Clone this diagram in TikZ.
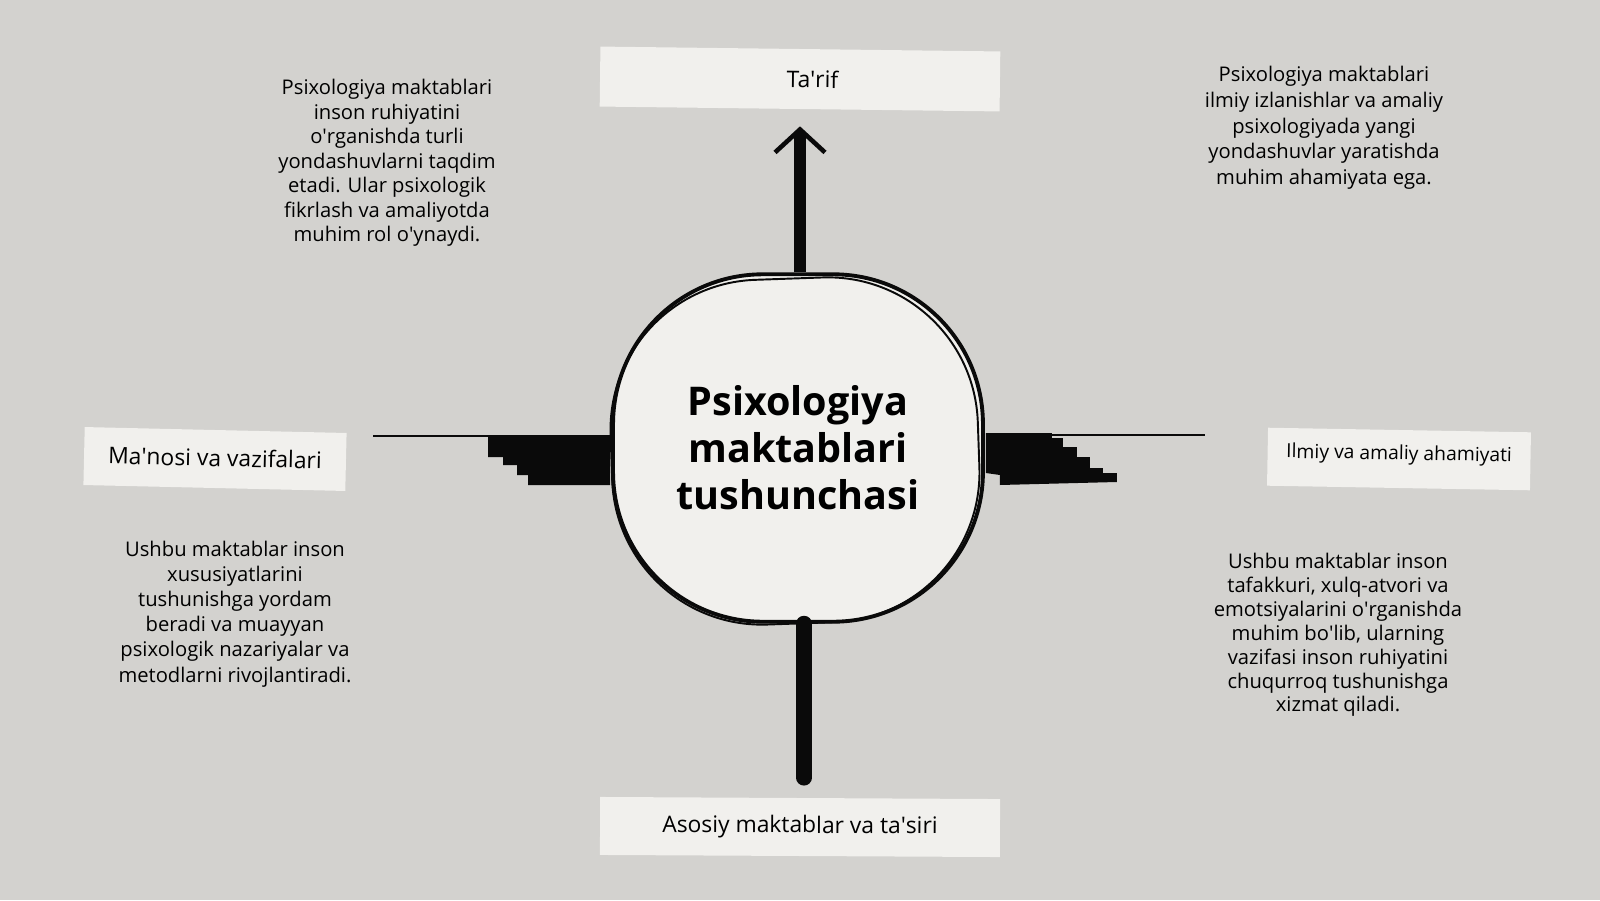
\documentclass[tikz,border=0pt]{standalone}
\usepackage{fontspec}
\setmainfont{Open Sans}
\usetikzlibrary{calc, arrows.meta}
\definecolor{paper}{RGB}{211,210,207}
\definecolor{tape}{RGB}{241,240,237}
\definecolor{ink}{RGB}{10,10,10}
\newcommand{\apo}{\textquotesingle}

\begin{document}
\begin{tikzpicture}[x=0.02cm, y=-0.02cm, font=\fontsize{11.5}{13.9}\selectfont,
  tape/.style={fill=tape, minimum height=1.16cm, inner sep=0pt, font=\fontsize{13}{15}\selectfont},
  note/.style={align=center, inner sep=0pt},
  wire/.style={ink, line width=0.8pt}]
\fill[paper] (0,0) rectangle (1600,900);
\useasboundingbox (0,0) rectangle (1600,900);

\node[tape, minimum width=8cm, minimum height=1.2cm, rotate=-0.7] (tarif) at (800,79) {\hspace{0.5cm}Ta\apo rif};
\node[tape, minimum width=8cm, rotate=-0.3] (asosiy) at (800,827) {Asosiy maktablar va ta\apo siri};
\node[tape, minimum width=5.24cm, rotate=-1.3] (manosi) at (215,459) {\raisebox{0.06cm}{Ma\apo nosi va vazifalari}};
\node[tape, minimum width=5.26cm, rotate=-1, font=\fontsize{11}{13}\selectfont] (ilmiy) at (1399,459) {\raisebox{0.26cm}{Ilmiy va amaliy ahamiyati}};

\node[draw=ink, line width=2.2pt, fill=tape, rounded corners=3cm, minimum width=7.4cm, minimum height=6.95cm,
  font=\fontsize{22.5}{26.8}\selectfont\bfseries, align=center] (psy) at (798,448) {Psixologiya\\maktablari\\tushunchasi};
\node[draw=ink, line width=1.1pt, rounded corners=3cm, minimum width=7.35cm, minimum height=6.9cm, rotate=2] (psyrim) at ($(psy.center)+(-3,3)$) {};

\draw[ink, line width=6.5pt, -{Straight Barb[length=0.46cm, width=1cm, line width=2.6pt]}, shorten >=0.34cm] ($(psy.north)+(2,0)$) -- ($(psy.north |- tarif.south)+(2,0)$);
\draw[ink, line width=9pt, line cap=round, shorten >=0.4cm] ($(psy.south)+(6,0)$) -- ($(psy.south |- asosiy.north)+(6,0)$);

\draw[wire] ($(psy.west)+(0,-12)$) -- ($(psy.west -| manosi.east)+(27,-12)$);
\fill[ink, shift={(psy.west)}] (-123,-11) -- (-1,-13) -- (-1,37) -- (-83,37) -- (-83,27) -- (-94,27) -- (-94,17)
  -- (-108,17) -- (-108,9) -- (-123,9) -- cycle;
\draw[wire] ($(psy.east)+(1,-13)$) -- ($(psy.east -| ilmiy.west)+(-62,-13)$);
\fill[ink, shift={(psy.east)}] (1,-15) -- (67,-15) -- (67,-10) -- (78,-10) -- (78,-1) -- (92,-1) -- (92,9) -- (105,9)
  -- (105,20) -- (118,20) -- (118,25) -- (132,25) -- (132,34) -- (15,37) -- (15,27) -- (1,25) -- cycle;

\node[note] (notetl) at (387,163) {Psixologiya maktablari\\inson ruhiyatini\\o\apo rganishda turli\\yondashuvlarni taqdim\\etadi. Ular psixologik\\fikrlash va amaliyotda\\muhim rol o\apo ynaydi.};
\node[note, font=\fontsize{11.5}{14.6}\selectfont] (notetr) at (1324,128) {Psixologiya maktablari\\ilmiy izlanishlar va amaliy\\psixologiyada yangi\\yondashuvlar yaratishda\\muhim ahamiyata ega.};
\node[note, font=\fontsize{11.5}{14.3}\selectfont] (notebl) at (235,614) {Ushbu maktablar inson\\xususiyatlarini\\tushunishga yordam\\beradi va muayyan\\psixologik nazariyalar va\\metodlarni rivojlantiradi.};
\node[note, font=\fontsize{11.5}{13.6}\selectfont] (notebr) at (1338,635) {Ushbu maktablar inson\\tafakkuri, xulq-atvori va\\emotsiyalarini o\apo rganishda\\muhim bo\apo lib, ularning\\vazifasi inson ruhiyatini\\chuqurroq tushunishga\\xizmat qiladi.};
\end{tikzpicture}
\end{document}
